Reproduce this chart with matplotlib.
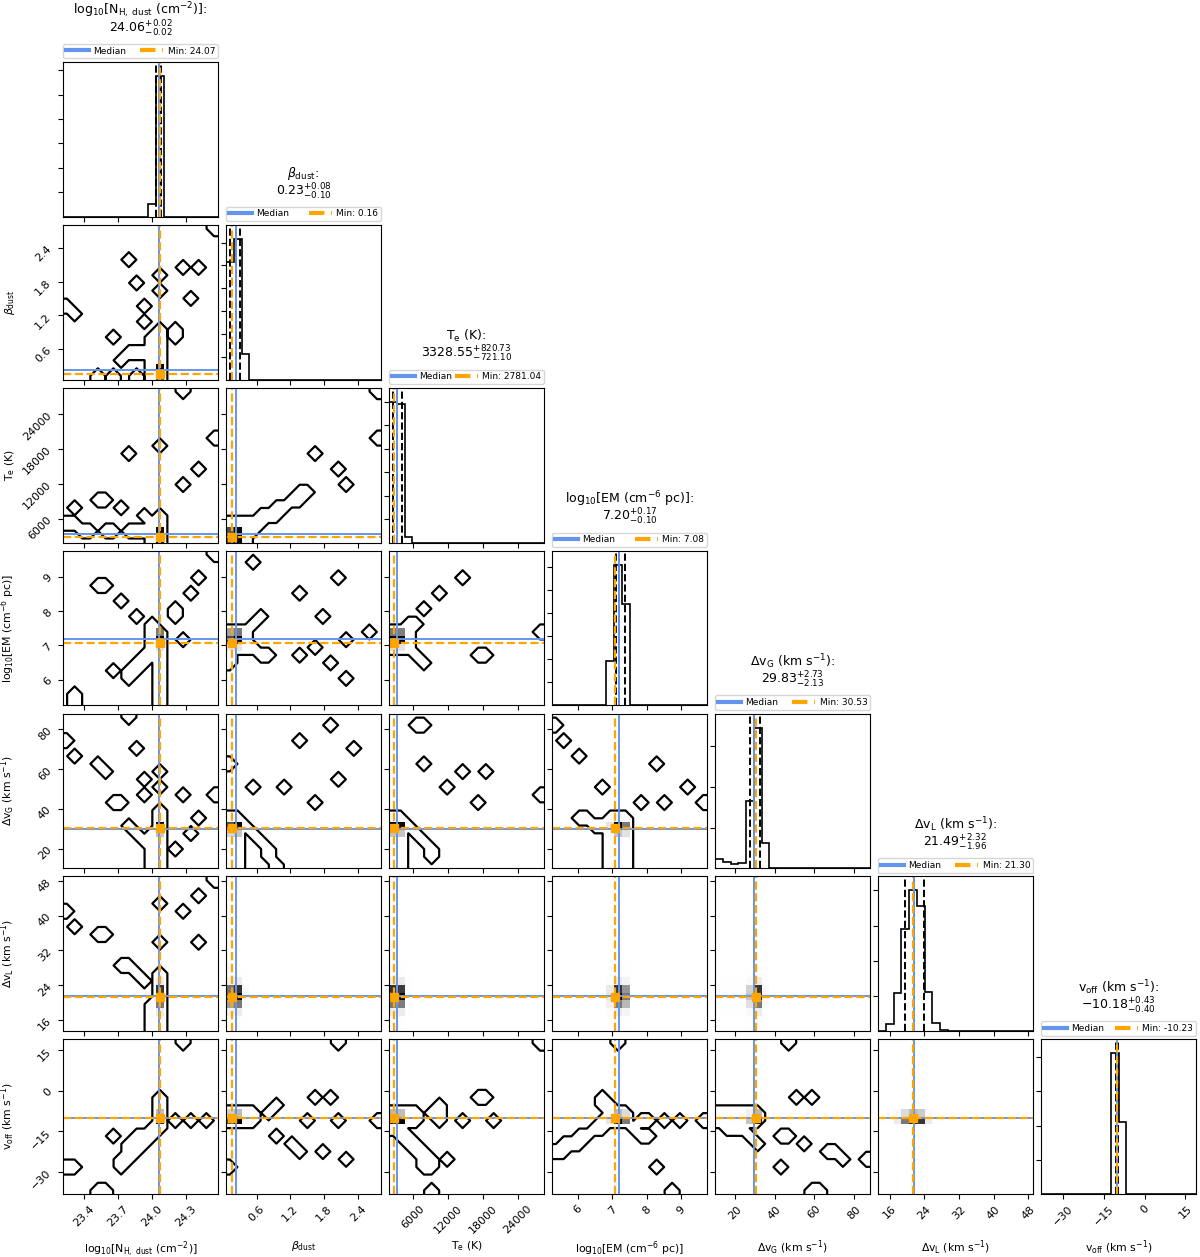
import numpy as np
import matplotlib
matplotlib.use("Agg")
import matplotlib.pyplot as plt
from matplotlib.lines import Line2D
from matplotlib.colors import LinearSegmentedColormap

# ---------------- data ----------------
labels = [r"log$_{10}$[N$_{\rm H,\ dust}$ (cm$^{-2}$)]", r"$\beta_{\rm dust}$", r"T$_{\rm e}$ (K)",
          r"log$_{10}$[EM (cm$^{-6}$ pc)]", r"Δv$_{\rm G}$ (km s$^{-1}$)", r"Δv$_{\rm L}$ (km s$^{-1}$)",
          r"v$_{\rm off}$ (km s$^{-1}$)"]
medians = [24.06, 0.23, 3328.55, 7.20, 29.83, 21.49, -10.18]
err_hi = [0.02, 0.08, 820.73, 0.17, 2.73, 2.32, 0.43]
err_lo = [0.02, 0.10, 721.10, 0.10, 2.13, 1.96, 0.40]
min_vals = [24.07, 0.16, 2781.04, 7.08, 30.53, 21.30, -10.23]
ranges = [(23.22, 24.58), (0.055, 2.81), (1900, 28500), (5.25, 9.76), (10.0, 88.0), (13.3, 49.1), (-38.2, 19.0)]
tick_vals = [[23.4, 23.7, 24.0, 24.3], [0.6, 1.2, 1.8, 2.4], [6000, 12000, 18000, 24000], [6, 7, 8, 9],
             [20, 40, 60, 80], [16, 24, 32, 40, 48], [-30, -15, 0, 15]]
tick_text = [["23.4", "23.7", "24.0", "24.3"], ["0.6", "1.2", "1.8", "2.4"], ["6000", "12000", "18000", "24000"],
             ["6", "7", "8", "9"], ["20", "40", "60", "80"], ["16", "24", "32", "40", "48"],
             ["\u221230", "\u221215", "0", "15"]]

# 1D histogram counts (20 bins over each range)
hist_nh = [0]*11 + [520, 5760] + [0]*7
hist_beta = [5144, 6160, 1115] + [0]*17
hist_te = [6000, 5900, 220] + [0]*17
hist_em = [0]*7 + [1940, 6100, 4410] + [0]*10
hist_dvg = [440, 325, 210, 240, 3280, 6900, 1240] + [0]*13
hist_dvl = [20, 208, 1088, 2892, 4000, 3552, 1108, 236, 28] + [0]*11
hist_voff = [0]*6 + [10, 10, 0, 8220, 4217, 0, 10] + [0]*7
hists = [hist_nh, hist_beta, hist_te, hist_em, hist_dvg, hist_dvl, hist_voff]
hist_tick_step = [1000, 1000, 1000, 1000, 2000, 1000, 2000]

# sparse occupied cells of the 2D histograms (x = column parameter, y = row parameter)
nh_beta_x = [23.80, 23.87, 23.93, 23.93, 23.66, 24.07, 24.07, 24.27, 24.41, 24.34, 23.25, 23.32, 24.55, 24.21, 24.21,
             24.07, 24.07, 24.07, 24.07, 24.07, 24.07, 24.07, 24.00, 24.00, 24.00, 24.00, 24.00, 24.00,
             23.93, 23.87, 23.80, 23.73, 23.53, 23.66, 23.87]
nh_beta_y = [2.19, 1.78, 1.37, 1.09, 0.81, 1.92, 1.64, 2.05, 2.05, 1.50, 1.37, 1.23, 2.74, 0.81, 0.95,
             0.12, 0.26, 0.40, 0.54, 0.68, 0.81, 0.95, 0.12, 0.26, 0.40, 0.54, 0.68, 0.81,
             0.54, 0.54, 0.54, 0.40, 0.12, 0.12, 0.12]

nh_te_x = [24.27, 24.55, 23.80, 24.41, 24.27, 23.53, 23.59, 23.32, 23.73, 23.93, 24.07,
           23.25, 23.32, 23.39, 23.46, 23.59, 23.66, 23.80, 23.87, 23.93, 24.00, 24.00, 24.00,
           24.07, 24.07, 24.07, 24.07]
nh_te_y = [27835, 19855, 17195, 14535, 11875, 9215, 9215, 7885, 7885, 6555, 18525,
           5225, 5225, 3895, 3895, 3895, 3895, 3895, 3895, 3895, 2565, 3895, 5225,
           2565, 3895, 5225, 6555]

beta_te_x = [2.74, 2.74, 1.64, 2.05, 2.19,
             0.12, 0.12, 0.12, 0.26, 0.26, 0.26, 0.40, 0.40, 0.40,
             0.54, 0.54, 0.68, 0.68, 0.81, 0.95, 0.95, 1.09, 1.23, 1.37, 1.37, 1.50]
beta_te_y = [27835, 19855, 17195, 14535, 11875,
             2565, 3895, 5225, 2565, 3895, 5225, 2565, 3895, 5225,
             3895, 5225, 5225, 6555, 6555, 6555, 7885, 7885, 9215, 9215, 10545, 10545]

nh_em_x = [24.55, 23.53, 23.59, 23.73, 23.87, 23.66, 24.21, 24.21, 24.34, 24.41, 24.27, 23.32, 23.32,
           24.07, 24.07, 24.07, 24.07, 24.07, 24.07, 24.07, 24.07, 24.07, 24.07,
           24.00, 24.00, 24.00, 24.00, 24.00, 23.93, 23.93, 23.87, 23.87, 23.80, 23.80]
nh_em_y = [9.65, 8.75, 8.75, 8.29, 7.84, 6.27, 7.84, 8.07, 8.52, 8.97, 7.17, 5.59, 5.36,
           5.36, 5.59, 5.81, 6.04, 6.27, 6.49, 6.72, 6.94, 7.17, 7.39,
           6.72, 6.94, 7.17, 7.39, 7.62, 6.49, 6.72, 6.27, 6.49, 6.04, 6.27]

beta_em_x = [0.54, 2.05, 1.37, 1.78, 2.19, 1.37, 1.64, 1.92, 2.19, 2.60,
             0.12, 0.12, 0.12, 0.26, 0.26, 0.26, 0.40, 0.40, 0.40,
             0.12, 0.12, 0.54, 0.68, 0.54, 0.68, 0.81]
beta_em_y = [9.42, 8.97, 8.52, 7.84, 7.17, 6.72, 6.94, 6.49, 6.04, 7.39,
             6.94, 7.17, 7.39, 6.94, 7.17, 7.39, 6.94, 7.17, 7.39,
             6.49, 6.72, 7.62, 7.84, 6.94, 6.72, 6.72]

te_em_x = [14535, 10545, 7885, 17195, 18525, 27835,
           2565, 2565, 2565, 3895, 3895, 3895, 5225, 5225, 5225,
           6555, 5225, 6555, 7885]
te_em_y = [8.97, 8.52, 8.07, 6.72, 6.72, 7.39,
           6.94, 7.17, 7.39, 6.94, 7.17, 7.39, 6.94, 7.17, 7.39,
           7.62, 7.62, 6.72, 6.49]

nh_dvg_x = [23.25, 23.32, 23.53, 23.59, 23.87, 23.80, 23.66, 23.73, 23.93, 23.93, 24.07, 24.07, 24.27, 24.55,
            24.41, 24.34, 24.21,
            24.07, 24.07, 24.07, 24.07, 24.07, 24.07, 24.07, 24.07,
            24.00, 24.00, 24.00, 24.00, 24.00, 23.80, 23.87, 23.93]
nh_dvg_y = [74.35, 66.55, 62.65, 58.75, 70.45, 86.05, 43.15, 43.15, 54.85, 47.05, 58.75, 50.95, 47.05, 47.05,
            35.35, 27.55, 19.75,
            11.95, 15.85, 19.75, 23.65, 27.55, 31.45, 35.35, 39.25,
            11.95, 15.85, 19.75, 23.65, 27.55, 31.45, 27.55, 23.65]

beta_dvg_x = [1.37, 1.92, 2.33, 2.05, 1.09, 1.64, 0.54, 0.12,
              0.12, 0.12, 0.12, 0.12, 0.12, 0.12, 0.12,
              0.26, 0.26, 0.26, 0.26, 0.26, 0.26, 0.26,
              0.40, 0.54, 0.68, 0.81, 0.81, 0.95]
beta_dvg_y = [74.35, 82.15, 70.45, 54.85, 50.95, 43.15, 50.95, 62.65,
              11.95, 15.85, 19.75, 23.65, 27.55, 31.45, 35.35,
              11.95, 15.85, 19.75, 23.65, 27.55, 31.45, 35.35,
              31.45, 27.55, 23.65, 19.75, 15.85, 11.95]

te_dvg_x = [6555, 7885, 14535, 18525, 17195, 27835, 7885, 11875,
            2565, 2565, 2565, 2565, 2565, 2565, 2565,
            3895, 3895, 3895, 3895, 3895, 3895, 3895,
            5225, 6555, 7885, 9215, 9215]
te_dvg_y = [82.15, 82.15, 58.75, 58.75, 43.15, 47.05, 62.65, 50.95,
            11.95, 15.85, 19.75, 23.65, 27.55, 31.45, 35.35,
            11.95, 15.85, 19.75, 23.65, 27.55, 31.45, 35.35,
            31.45, 27.55, 23.65, 19.75, 15.85]

em_dvg_x = [5.36, 5.59, 6.04, 6.72, 8.29, 7.84, 8.52, 9.20, 9.65,
            6.94, 6.94, 6.94, 6.94, 6.94, 6.94, 6.94,
            7.17, 7.17, 7.17, 7.17, 7.17, 7.17, 7.17,
            7.39, 7.39, 7.39, 7.39, 7.39, 7.39, 7.39,
            6.72, 6.49, 6.27, 6.04]
em_dvg_y = [82.15, 74.35, 66.55, 50.95, 62.65, 43.15, 43.15, 50.95, 43.15,
            11.95, 15.85, 19.75, 23.65, 27.55, 31.45, 35.35,
            11.95, 15.85, 19.75, 23.65, 27.55, 31.45, 35.35,
            11.95, 15.85, 19.75, 23.65, 27.55, 31.45, 35.35,
            31.45, 31.45, 35.35, 35.35]

nh_dvl_x = [23.25, 23.32, 23.53, 23.59, 24.07, 24.07, 24.27, 24.41, 24.41, 24.55,
            24.07, 24.07, 24.07, 24.07, 24.07, 24.07, 24.07, 24.07,
            24.00, 24.00, 24.00, 24.00, 23.93, 23.87, 23.80, 23.73]
nh_dvl_y = [41.05, 37.47, 35.68, 35.68, 33.89, 42.84, 41.05, 44.63, 33.89, 48.21,
            14.20, 15.99, 17.78, 19.57, 21.36, 23.15, 24.94, 26.73,
            14.20, 15.99, 17.78, 19.57, 24.94, 26.73, 28.52, 28.52]

nh_voff_x = [24.27, 24.21, 24.34, 24.48, 23.66, 23.32, 23.25, 23.53, 23.59,
             23.73, 23.73, 23.80, 23.80, 23.87, 23.87, 23.93, 23.93, 24.00, 24.00,
             24.07, 24.07, 24.07, 24.07, 24.07, 23.80, 23.87]
nh_voff_y = [17.57, -11.03, -11.03, -11.03, -16.75, -28.19, -28.19, -36.77, -36.77,
             -28.19, -25.33, -25.33, -22.47, -22.47, -19.61, -19.61, -16.75, -16.75, -13.89,
             -13.89, -11.03, -8.17, -5.31, -2.45, -19.61, -16.75]

beta_voff_x = [2.05, 0.12, 0.26, 0.40, 0.54, 0.12, 0.26, 0.40, 0.54, 0.81, 0.95,
               0.95, 1.23, 1.37, 1.50, 1.64, 1.92, 1.78, 2.19, 2.05, 2.74, 0.12]
beta_voff_y = [17.57, -11.03, -11.03, -11.03, -11.03, -8.17, -8.17, -8.17, -8.17, -8.17, -5.31,
               -16.75, -19.61, -22.47, -11.03, -2.45, -2.45, -22.47, -25.33, -11.03, -11.03, -28.19]

te_voff_x = [27835, 2565, 3895, 5225, 6555, 2565, 3895, 5225, 6555, 9215, 10545, 10545, 10545,
             2565, 3895, 3895, 5225, 5225, 6555, 6555, 7885, 7885, 9215, 9215, 7885,
             14535, 19855, 17195, 18525, 11875, 9215]
te_voff_y = [17.57, -11.03, -11.03, -11.03, -11.03, -8.17, -8.17, -8.17, -8.17, -8.17, -8.17, -5.31, -11.03,
             -13.89, -13.89, -16.75, -16.75, -19.61, -19.61, -22.47, -22.47, -25.33, -25.33, -28.19, -28.19,
             -11.03, -11.03, -2.45, -2.45, -25.33, -36.77]

em_voff_x = [7.17, 8.52, 8.97, 9.65, 8.29, 8.75,
             5.36, 5.59, 5.59, 5.81, 6.04, 6.04, 6.27, 6.49, 6.72, 6.72, 6.94, 6.94, 7.17, 7.17,
             7.39, 7.39, 6.72, 6.94, 6.72, 7.62, 7.84, 8.07, 7.84, 8.07]
em_voff_y = [17.57, -11.03, -11.03, -11.03, -28.19, -36.77,
             -22.47, -22.47, -19.61, -19.61, -19.61, -16.75, -16.75, -13.89, -13.89, -11.03, -11.03, -8.17,
             -11.03, -8.17, -11.03, -8.17, -5.31, -5.31, -2.45, -13.89, -16.75, -16.75, -11.03, -11.03]

dvg_voff_x = [11.95, 15.85, 19.75, 23.65, 27.55, 31.45, 11.95, 15.85, 19.75, 23.65, 27.55, 31.45,
              15.85, 19.75, 23.65, 27.55, 31.45, 43.15, 47.05, 50.95, 58.75, 47.05, 43.15, 54.85,
              66.55, 70.45, 74.35, 86.05, 58.75, 62.65]
dvg_voff_y = [-11.03, -11.03, -11.03, -11.03, -11.03, -11.03, -8.17, -8.17, -8.17, -8.17, -8.17, -8.17,
              -13.89, -13.89, -13.89, -16.75, -19.61, -16.75, -16.75, -2.45, -2.45, 17.57, -28.19, -19.61,
              -22.47, -22.47, -25.33, -25.33, -36.77, -36.77]

cells = {
    (1, 0): (nh_beta_x, nh_beta_y),
    (2, 0): (nh_te_x, nh_te_y), (2, 1): (beta_te_x, beta_te_y),
    (3, 0): (nh_em_x, nh_em_y), (3, 1): (beta_em_x, beta_em_y), (3, 2): (te_em_x, te_em_y),
    (4, 0): (nh_dvg_x, nh_dvg_y), (4, 1): (beta_dvg_x, beta_dvg_y), (4, 2): (te_dvg_x, te_dvg_y),
    (4, 3): (em_dvg_x, em_dvg_y),
    (5, 0): (nh_dvl_x, nh_dvl_y),
    (6, 0): (nh_voff_x, nh_voff_y), (6, 1): (beta_voff_x, beta_voff_y), (6, 2): (te_voff_x, te_voff_y),
    (6, 3): (em_voff_x, em_voff_y), (6, 4): (dvg_voff_x, dvg_voff_y),
}

# ---------------- style ----------------
BLUE = "cornflowerblue"
ORANGE = "orange"
NB = 20
density_cmap = LinearSegmentedColormap.from_list("density_cmap", [(0, 0, 0, 1), (1, 1, 1, 0)])

fig = plt.figure(figsize=(12, 12.57), dpi=100)
gs = fig.add_gridspec(7, 7, left=0.0525, right=0.9967, bottom=0.05, top=0.9507, wspace=0.052, hspace=0.052)
n = 7

def edges(k):
    return np.linspace(ranges[k][0], ranges[k][1], NB + 1)

def padded(k):
    e = edges(k)
    c = 0.5 * (e[1:] + e[:-1])
    d = e[1] - e[0]
    return np.concatenate([c[0] + np.array([-2, -1]) * d, c, c[-1] + np.array([1, 2]) * d])

PX = 72.0 / 100.0  # points per pixel

for r in range(n):
    for c in range(r + 1):
        ax = fig.add_subplot(gs[r, c])
        ax.tick_params(direction="out", length=3.5, width=0.8, labelsize=8)
        if r == c:
            h = np.array(hists[r], float)
            e = edges(r)
            ax.stairs(h, e, color="k", lw=1.2, baseline=0)
            ax.set_xlim(*ranges[r])
            ax.set_ylim(0, 1.1 * h.max())
            step = hist_tick_step[r]
            ax.set_yticks(np.arange(step, 1.1 * h.max(), step))
            ax.set_yticklabels([])
            q = [medians[r] - err_lo[r], medians[r], medians[r] + err_hi[r]]
            for v in q:
                ax.axvline(v, color="k", ls="--", lw=1.4)
            ax.axvline(medians[r], color=BLUE, lw=1.4)
            ax.axvline(min_vals[r], color=ORANGE, ls="--", lw=1.6)
            handles = [Line2D([], [], color=BLUE, lw=3), Line2D([], [], color=ORANGE, lw=3, ls="--")]
            ax.legend(handles, ["Median", f"Min: {min_vals[r]:.2f}"], loc="lower left",
                      bbox_to_anchor=(0, 1.024, 1, 0.1), mode="expand", ncol=2, fontsize=6.5,
                      borderaxespad=0, handlelength=2.55, handletextpad=0.5, borderpad=0.3,
                      columnspacing=1.0)
            ax.annotate(labels[r] + ":", xy=(0.5, 1), xycoords="axes fraction",
                        xytext=(0, 47.5 * PX), textcoords="offset points", ha="center", va="baseline",
                        fontsize=9)
            ax.annotate(rf"${medians[r]:.2f}^{{+{err_hi[r]:.2f}}}_{{-{err_lo[r]:.2f}}}$", xy=(0.5, 1),
                        xycoords="axes fraction", xytext=(0, 29.5 * PX), textcoords="offset points",
                        ha="center", va="baseline", fontsize=9)
        else:
            xe, ye = edges(c), edges(r)
            hx = np.array(hists[c], float)
            hy = np.array(hists[r], float)
            D = np.outer(hx / hx.max(), hy / hy.max())
            ax.pcolormesh(xe, ye, 1 - D.T, cmap=density_cmap, vmin=0, vmax=1, shading="flat",
                          antialiased=False, rasterized=True)
            if (r, c) in cells:
                xs, ys = cells[(r, c)]
                H, _, _ = np.histogram2d(xs, ys, bins=[xe, ye])
                H = (H > 0).astype(float)
                H2 = np.zeros((NB + 4, NB + 4))
                H2[2:-2, 2:-2] = H
                H2[2:-2, 1] = H[:, 0]
                H2[2:-2, -2] = H[:, -1]
                H2[1, 2:-2] = H[0]
                H2[-2, 2:-2] = H[-1]
                H2[1, 1] = H[0, 0]
                H2[1, -2] = H[0, -1]
                H2[-2, 1] = H[-1, 0]
                H2[-2, -2] = H[-1, -1]
                ax.contour(padded(c), padded(r), H2.T, levels=[0.03], colors="k", linewidths=1.6)
            ax.axvline(medians[c], color=BLUE, lw=1.4)
            ax.axhline(medians[r], color=BLUE, lw=1.4)
            ax.axvline(min_vals[c], color=ORANGE, ls="--", lw=1.6)
            ax.axhline(min_vals[r], color=ORANGE, ls="--", lw=1.6)
            ax.plot(min_vals[c], min_vals[r], "s", color=ORANGE, ms=6)
            ax.set_xlim(*ranges[c])
            ax.set_ylim(*ranges[r])
            ax.set_yticks(tick_vals[r])
            if c == 0:
                ax.set_yticklabels(tick_text[r], rotation=45)
                ax.set_ylabel(labels[r], fontsize=7.8)
                ax.yaxis.set_label_coords(-0.295, 0.5)
            else:
                ax.set_yticklabels([])
        ax.set_xticks(tick_vals[c])
        if r == n - 1:
            ax.set_xticklabels(tick_text[c], rotation=45, ha="center")
            ax.set_xlabel(labels[c], fontsize=7.8)
            ax.xaxis.set_label_coords(0.5, -0.29)
        else:
            ax.set_xticklabels([])

fig.savefig("out.png", dpi=100)
